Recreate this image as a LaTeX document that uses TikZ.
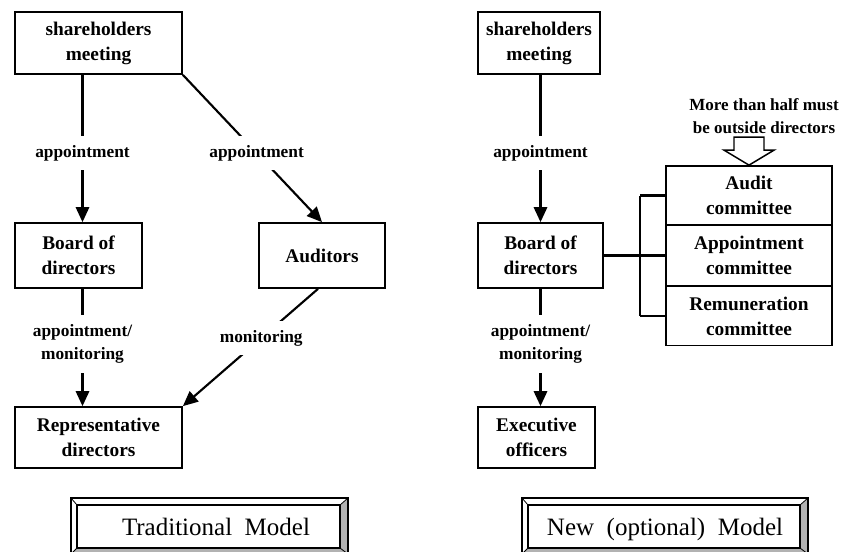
\documentclass[tikz,border=0pt]{standalone}
\usepackage{fontspec}
\setmainfont{Liberation Serif}
\usetikzlibrary{arrows.meta}

\tikzset{
  box/.style={draw,line width=1.3pt,align=center,inner sep=0pt,
    font=\fontsize{14.5}{18.75}\selectfont\bfseries},
  lbl/.style={fill=white,align=center,inner xsep=2pt,inner ysep=7pt,
    font=\fontsize{13}{17}\selectfont\bfseries},
  note/.style={align=center,inner sep=0pt,
    font=\fontsize{12.75}{17.25}\selectfont\bfseries},
  arr/.style={line width=1.6pt,-{Triangle[length=11.25pt,width=10pt]}},
  ln/.style={line width=1.6pt},
  titel/.style={anchor=base,font=\fontsize{18.75}{22}\selectfont},
}

\begin{document}
\begin{tikzpicture}[x=0.75pt,y=-0.75pt]
  \useasboundingbox (0,0) rectangle (841,551);
  \clip (0,0) rectangle (841,551);

  % 左
  \node[box,minimum width=125.25pt,minimum height=46.5pt] (sm1) at (98.5,43) {shareholders\\meeting}; %株主総会
  \node[box,minimum width=95.25pt,minimum height=48.75pt] (bd1) at (78.5,255.5) {Board of\\directors}; %取締役会
  \node[box,minimum width=94.5pt,minimum height=48.75pt] (aud) at (322,255.5) {Auditors}; %監査役
  \node[box,minimum width=125.25pt,minimum height=45.75pt] (rep) at (98.5,437.5) {Representative\\directors}; %代表取締役

  % 右
  \node[box,minimum width=91.5pt,minimum height=46.5pt] (sm2) at (539,43) {shareholders\\meeting};
  \node[box,minimum width=93.75pt,minimum height=48.75pt] (bd2) at (540.5,255.5) {Board of\\directors};
  \node[box,minimum width=87.75pt,minimum height=45.75pt] (exe) at (536.5,437.5) {Executive\\officers}; %執行役
  \node[box,minimum width=124.5pt,minimum height=44.25pt] (audc) at (749,195.5) {Audit\\committee};
  \node[box,minimum width=124.5pt,minimum height=45.75pt] (appc) at (749,255.5) {Appointment\\committee};
  \node[box,minimum width=124.5pt,minimum height=44.25pt] (remc) at (749,316) {Remuneration\\committee};
  \node[note] (half) at (764,116) {More than half must\\be outside directors};

  % 矢印
  \draw[arr] ([xshift=3pt]bd1.north |- sm1.south) -- node[lbl,pos=0.53]{appointment} ([xshift=3pt]bd1.north);
  \draw[arr] (sm1.south east) -- node[lbl,pos=0.53]{appointment} (aud.north);
  \draw[arr] ([xshift=3pt]bd1.south) -- node[lbl,pos=0.47]{appointment/\\monitoring} ([xshift=3pt]bd1.south |- rep.north);
  \draw[arr] ([xshift=-3pt]aud.south) -- node[lbl,pos=0.42]{monitoring} (rep.north east);

  \draw[arr] (bd2.north |- sm2.south) -- node[lbl,pos=0.53]{appointment} (bd2.north);
  \draw[arr] (bd2.south) -- node[lbl,pos=0.47]{appointment/\\monitoring} (bd2.south |- exe.north);

  % 委員会へ
  \coordinate (br) at (640,255.5);
  \draw[ln] (bd2.east) -- (br);
  \foreach \c in {audc,appc,remc} \draw[ln] (\c.west) -- (\c.west -| br);
  \draw[ln] (audc.west -| br) -- (remc.west -| br);
  \draw[line width=1.1pt,fill=white] (audc.north) -- ++(-25,-15) -- ++(10,0) -- ++(0,-13)
    -- ++(30,0) -- ++(0,13) -- ++(10,0) -- cycle;

  % タイトル枠
  \foreach \a/\b in {71/348,522/808} {
    \fill[gray!60] (\b-8,505) -- (\b,498) -- (\b,554) -- (\a,554) -- (\a+6,548) -- (\b-8,548) -- cycle;
    \draw[line width=0.9pt] (\a,498) rectangle (\b,554);
    \draw[line width=0.9pt] (\a+6,505) rectangle (\b-8,548);
    \draw[line width=0.6pt] (\a,498) -- (\a+6,505) (\b,498) -- (\b-8,505)
      (\a,554) -- (\a+6,548) (\b,554) -- (\b-8,548);
  }
  \node[titel] (trad) at (216,535) {Traditional~ Model};
  \node[titel] (newm) at (665,535) {New~ (optional)~ Model};
\end{tikzpicture}
\end{document}
